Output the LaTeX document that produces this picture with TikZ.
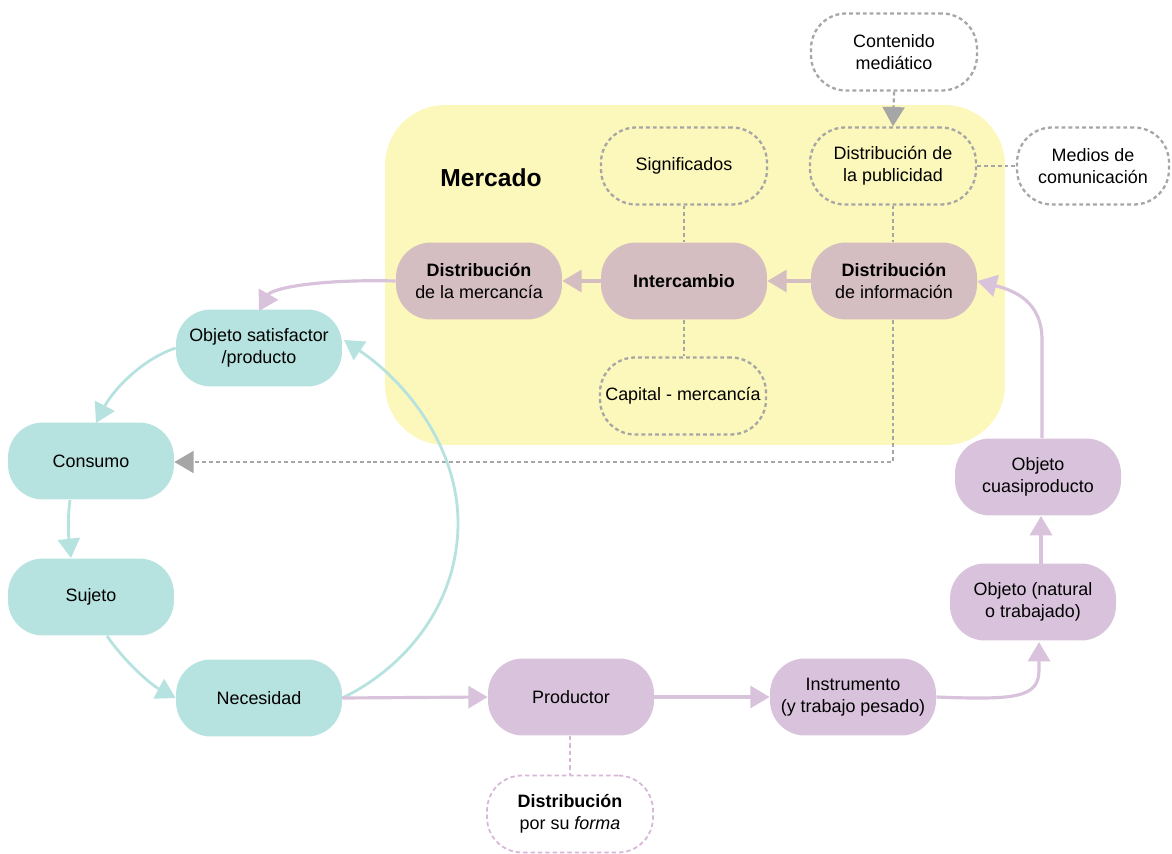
\documentclass[tikz,border=0pt]{standalone}
\usepackage{fontspec}
\setmainfont{Liberation Sans}
\usetikzlibrary{arrows.meta}
\definecolor{tealc}{HTML}{B6E3DF}
\definecolor{mauvec}{HTML}{D5BEC1}
\definecolor{lilacc}{HTML}{D9C2DC}
\definecolor{yellowc}{HTML}{FCF7BA}
\definecolor{greyc}{HTML}{A6A6A6}
\definecolor{pinkc}{HTML}{D8B6D8}
\begin{document}
\begin{tikzpicture}[x=0.02cm,y=-0.02cm,
  every node/.style={font=\fontsize{10.2}{12.6}\selectfont, text=black},
  box/.style={rounded corners=0.7cm, minimum width=3.32cm, minimum height=1.54cm, align=center, inner sep=2pt},
  tealbox/.style={box, fill=tealc},
  mauvebox/.style={box, fill=mauvec},
  lilacbox/.style={box, fill=lilacc},
  dashbox/.style={box, draw=greyc, line width=1.3pt, dash pattern=on 2.2pt off 1.7pt},
  pinkbox/.style={box, draw=pinkc, line width=1pt, dash pattern=on 2.5pt off 1.7pt},
  tip/.style={-{Triangle[length=11pt,width=12.5pt]}},
  tealline/.style={draw=tealc, line width=1.6pt, tip},
  lilacline/.style={draw=lilacc, line width=1.8pt, tip},
  mauveline/.style={draw=mauvec, line width=1.8pt, tip},
  greyline/.style={draw=greyc, line width=1.3pt, dash pattern=on 2.2pt off 1.7pt},
  greyarrow/.style={greyline, tip}
]
\useasboundingbox (0,0) rectangle (1172,854);

% market background
\node[fill=yellowc, rounded corners=1.2cm, minimum width=12.4cm, minimum height=6.8cm, inner sep=0pt] (mercado) at (695,275) {};
\node[font=\fontsize{14}{16}\selectfont\bfseries] (mercadolbl) at (491,178) {Mercado};

% nodes
\node[dashbox] (contenido) at (894,52) {Contenido\\mediático};
\node[dashbox] (signif) at (684,166) {Significados};
\node[dashbox] (publi) at (893,166) {Distribución de\\la publicidad};
\node[dashbox, minimum width=3.04cm] (medios) at (1093,166) {Medios de\\comunicación};
\node[mauvebox] (merc) at (479,281) {\textbf{Distribución}\\de la mercancía};
\node[mauvebox] (interc) at (684,281) {\textbf{Intercambio}};
\node[mauvebox] (info) at (894,281) {\textbf{Distribución}\\de información};
\node[dashbox] (capital) at (683,396) {Capital - mercancía};

\node[tealbox] (objsat) at (259,348) {Objeto satisfactor\\/producto};
\node[tealbox] (consumo) at (91,461) {Consumo};
\node[tealbox] (sujeto) at (91,597) {Sujeto};
\node[tealbox] (necesidad) at (259,698) {Necesidad};

\node[lilacbox] (productor) at (571,697) {Productor};
\node[lilacbox] (instrumento) at (853,697) {Instrumento\\(y trabajo pesado)};
\node[pinkbox] (formadist) at (570,814) {\textbf{Distribución}\\por su \textit{forma}};
\node[lilacbox] (objnat) at (1033,602) {Objeto (natural\\o trabajado)};
\node[lilacbox] (objcuasi) at (1038,477) {Objeto\\cuasiproducto};

% grey dashed relations
\draw[greyarrow] (contenido.south) -- (publi.north);
\draw[greyline] (publi.east) -- (medios.west);
\draw[greyline] (signif.south) -- (interc.north);
\draw[greyline] (interc.south) -- (capital.north -| interc.south);
\draw[greyline] (publi.south) -- (info.north -| publi.south);
\draw[greyarrow] (info.south -| publi.south) -- (893,462) -- (consumo.east |- 0,462);
\draw[draw=pinkc, line width=1pt, dash pattern=on 2.5pt off 1.7pt] (productor.south -| formadist.north) -- (formadist.north);

% market flow
\draw[mauveline] (info.west) -- (interc.east);
\draw[mauveline] (interc.west) -- (merc.east);
\draw[lilacline] (merc.west) .. controls (320,279) and (272,288) .. (259,311);

% teal cycle
\draw[tealline] (objsat.west) .. controls (140,360) and (112,392) .. (96,423);
\draw[tealline] (70,500) .. controls (67,522) and (69,540) .. (71,558);
\draw[tealline] (107,636) .. controls (125,662) and (150,684) .. (necesidad.west);
\draw[tealline] (necesidad.east) .. controls (410,665) and (458,600) .. (458,523)
  .. controls (458,450) and (410,385) .. (344,340);

% production flow
\draw[lilacline] (necesidad.east) -- (productor.west);
\draw[lilacline] (productor.east) -- (instrumento.west);
\draw[lilacline] (instrumento.east) .. controls (1015,700) and (1039,698) .. (1039,670) -- (1039,642);
\draw[lilacline] (1041,564) -- (1041,516);
\draw[lilacline] (1042,438) -- (1042,340) .. controls (1042,300) and (1012,290) .. (info.east);
\end{tikzpicture}
\end{document}
